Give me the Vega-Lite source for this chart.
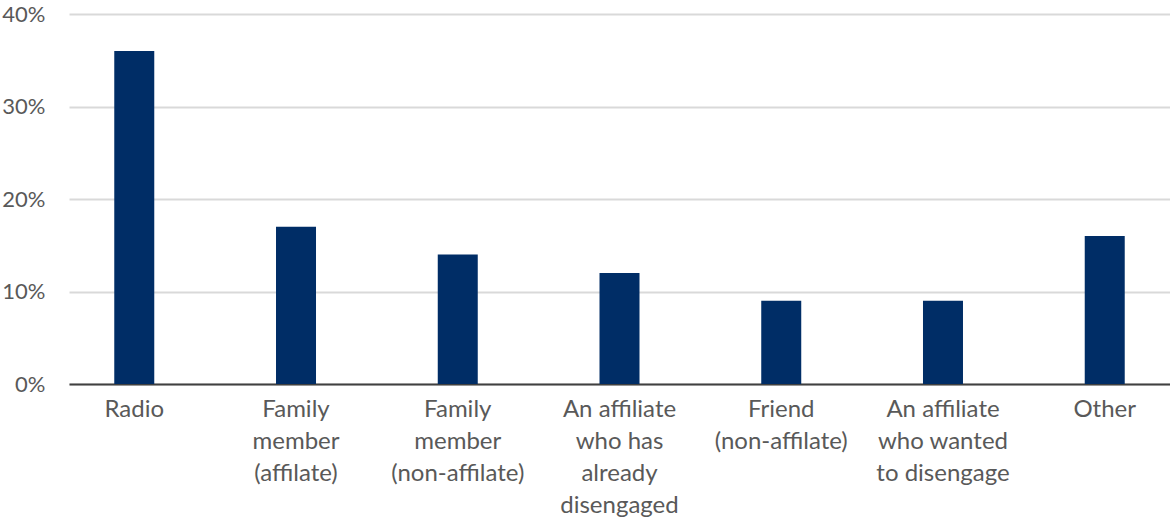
{
  "$schema": "https://vega.github.io/schema/vega-lite/v6.json",
  "width": 1101,
  "height": 370,
  "autosize": {"type": "none"},
  "padding": {"left": 69, "top": 14, "right": 0, "bottom": 136},
  "background": "white",
  "data": {
    "values": [
      {"source": "Radio", "share": 0.36},
      {"source": "Family|member|(affilate)", "share": 0.17},
      {"source": "Family|member|(non-affilate)", "share": 0.14},
      {"source": "An affiliate|who has|already|disengaged", "share": 0.12},
      {"source": "Friend|(non-affilate)", "share": 0.09},
      {"source": "An affiliate|who wanted|to disengage", "share": 0.09},
      {"source": "Other", "share": 0.16}
    ]
  },
  "mark": {"type": "bar", "color": "#002D66", "width": 40},
  "encoding": {
    "x": {
      "field": "source",
      "type": "nominal",
      "sort": null,
      "scale": {"paddingInner": 0.753, "paddingOuter": 0.28},
      "axis": {
        "title": null,
        "labelAngle": 0,
        "labelExpr": "split(datum.label, '|')",
        "labelFont": "Lato",
        "labelFontSize": 24,
        "labelColor": "#595959",
        "labelLineHeight": 32,
        "labelPadding": 13,
        "labelBaseline": "top",
        "labelOverlap": false,
        "ticks": false,
        "domainColor": "#404040",
        "domainWidth": 2,
        "labelLimit": 300
      }
    },
    "y": {
      "field": "share",
      "type": "quantitative",
      "scale": {"domain": [0, 0.4], "nice": false},
      "axis": {
        "title": null,
        "format": ".0%",
        "values": [0, 0.1, 0.2, 0.3, 0.4],
        "labelFont": "Lato",
        "labelFontSize": 22,
        "labelColor": "#595959",
        "labelPadding": 24,
        "labelOverlap": false,
        "ticks": false,
        "domain": false,
        "gridColor": "#D9D9D9",
        "gridWidth": 2
      }
    }
  },
  "config": {"view": {"stroke": null}}
}
